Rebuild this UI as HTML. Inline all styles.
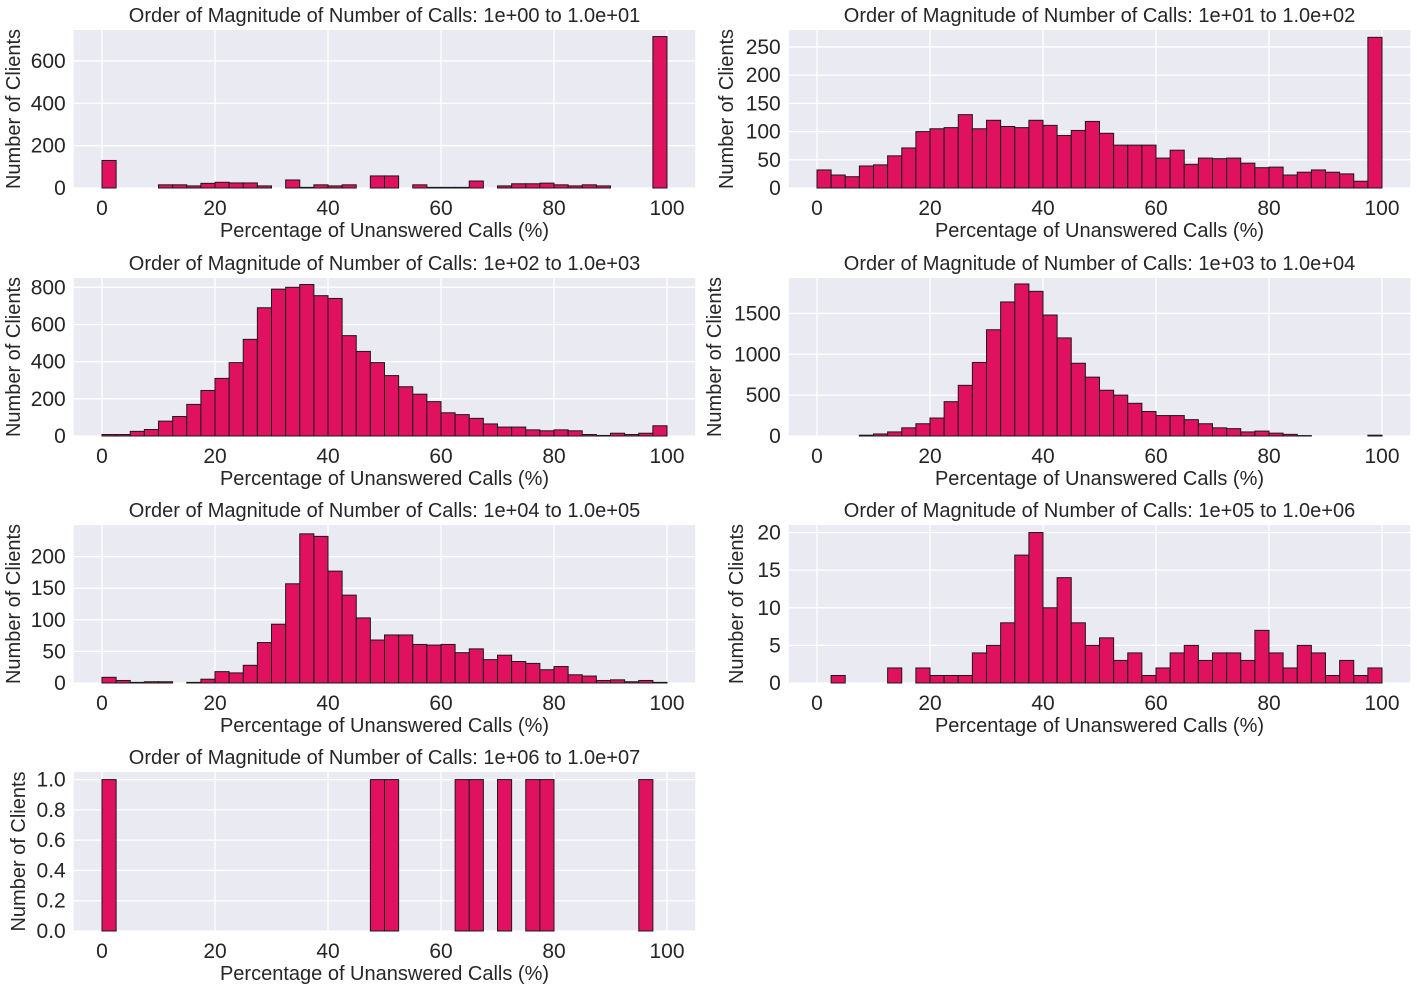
<!DOCTYPE html>
<html><head><meta charset="utf-8"><style>
html,body{margin:0;padding:0;background:#fff;}
svg{display:block;font-family:"Liberation Sans",sans-serif;}
</style></head><body>
<svg id="fig" width="1417" height="991" xmlns="http://www.w3.org/2000/svg"></svg>
<script>
const titles = ["1e+00 to 1.0e+01","1e+01 to 1.0e+02","1e+02 to 1.0e+03","1e+03 to 1.0e+04","1e+04 to 1.0e+05","1e+05 to 1.0e+06","1e+06 to 1.0e+07"];
const counts1 = [130,0,0,0,15,15,10,22,27,24,24,10,0,38,3,15,10,15,0,57,57,0,15,3,3,3,33,0,10,20,20,23,15,10,15,10,0,0,0,715];
const counts2 = [32,23,20,39,41,57,71,100,105,107,130,105,120,109,107,120,111,93,102,118,97,76,76,76,53,67,42,53,52,53,44,36,37,23,28,32,28,25,12,267];
const counts3 = [8,8,25,35,80,105,170,245,310,395,520,690,790,800,815,755,740,540,455,395,325,265,225,185,125,115,95,65,48,48,33,28,33,28,8,3,15,8,15,55];
const counts4 = [0,0,0,10,25,50,100,150,220,420,620,900,1300,1640,1860,1770,1480,1200,890,720,560,500,400,300,250,250,200,150,100,90,50,60,35,20,5,0,0,0,0,10];
const counts5 = [9,4,1,2,2,0,1,6,18,16,28,64,93,157,236,232,177,139,103,68,76,76,61,60,61,48,54,37,44,34,31,21,26,13,11,4,5,2,4,1];
const counts6 = [0,1,0,0,0,2,0,2,1,1,1,4,5,8,17,20,10,14,8,5,6,3,4,1,2,4,5,3,4,4,3,7,4,2,5,4,1,3,1,2];
const counts7 = [1,0,0,0,0,0,0,0,0,0,0,0,0,0,0,0,0,0,0,1,1,0,0,0,0,1,1,0,1,0,1,1,0,0,0,0,0,0,1,0];
const yMaxes = [746,280,850,1933,250,21,1.05];
const yTicks = [[0,200,400,600],[0,50,100,150,200,250],[0,200,400,600,800],[0,500,1000,1500],[0,50,100,150,200],[0,5,10,15,20],[0,0.2,0.4,0.6,0.8,1.0]];
const xTicks = [0,20,40,60,80,100];
const allCounts = [counts1,counts2,counts3,counts4,counts5,counts6,counts7];
const yLabelX = [20,733,20,721,20,743,25];

const NS="http://www.w3.org/2000/svg";
const svg=document.getElementById('fig');
function mk(tag,attrs,parent){const e=document.createElementNS(NS,tag);for(const k in attrs)e.setAttribute(k,attrs[k]);(parent||svg).appendChild(e);return e;}
const rows=[[30,188],[278,436],[525,683],[772,931]];
const cols=[[73.75,695.25],[788.75,1410.25]];
allCounts.forEach((counts,p)=>{
  const r=Math.floor(p/2), c=p%2;
  const [top,bot]=rows[r], [left,right]=cols[c];
  const g=mk('g',{});
  
  
  const xs=v=>left+(v+5)/110*(right-left);
  const ys=v=>bot-v/yMaxes[p]*(bot-top);
  const bg=mk('rect',{x:left,y:top,width:right-left,height:bot-top,fill:'#eaeaf2'},g);
  
  
  xTicks.forEach(t=>{
    mk('line',{x1:xs(t),x2:xs(t),y1:top,y2:bot,stroke:'#fff','stroke-width':1.3},g);
    const tl=mk('text',{x:xs(t),y:bot+27,'text-anchor':'middle','font-size':21,fill:'#262626'},g);
    tl.textContent=t;
    
    
  });
  yTicks[p].forEach(t=>{
    mk('line',{x1:left,x2:right,y1:ys(t),y2:ys(t),stroke:'#fff','stroke-width':1.3},g);
    const tl=mk('text',{x:left-8,y:ys(t)+7,'text-anchor':'end','font-size':21,fill:'#262626'},g);
    tl.textContent=(p===6)?t.toFixed(1):t;
    
    
  });
  counts.forEach((v,i)=>{
    if(v<=0) return;
    const b=mk('rect',{x:xs(i*2.5),y:ys(v),width:xs((i+1)*2.5)-xs(i*2.5),height:ys(0)-ys(v),fill:'#e0115f',stroke:'#1a1a1a','stroke-width':1},g);
    
    
  });
  const ti=mk('text',{x:(left+right)/2,y:top-8,'text-anchor':'middle','font-size':20,fill:'#262626'},g);
  ti.textContent='Order of Magnitude of Number of Calls: '+titles[p];
  
  
  const xl=mk('text',{x:(left+right)/2,y:bot+49,'text-anchor':'middle','font-size':20,fill:'#262626'},g);
  xl.textContent='Percentage of Unanswered Calls (%)';
  
  
  const yl=mk('text',{x:0,y:0,transform:`translate(${yLabelX[p]},${(top+bot)/2}) rotate(-90)`,'text-anchor':'middle','font-size':20,fill:'#262626'},g);
  yl.textContent='Number of Clients';
  
  
});
</script>
</body></html>
